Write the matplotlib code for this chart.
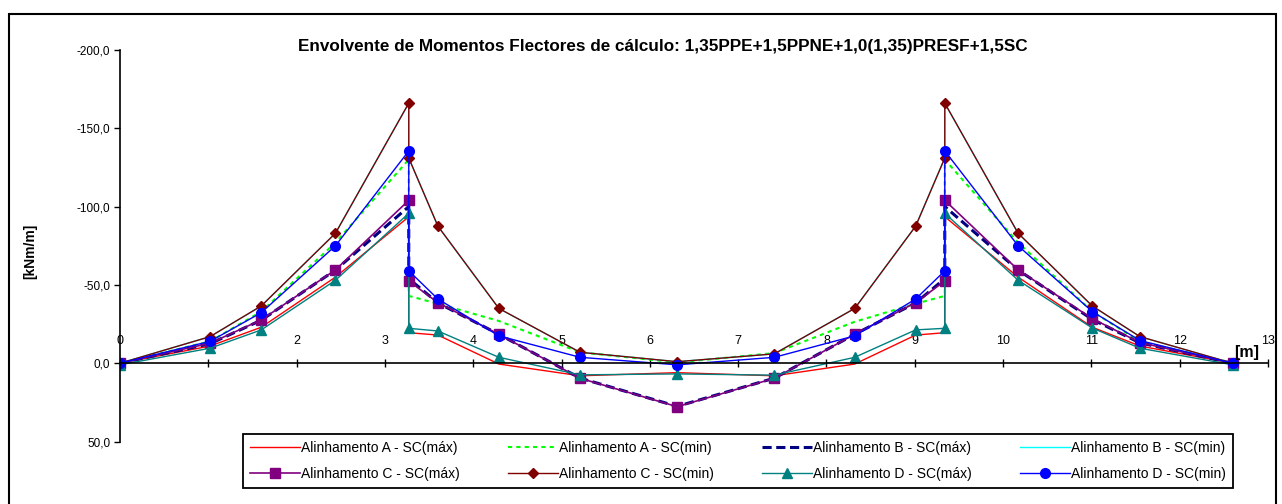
import matplotlib
matplotlib.use("Agg")
import matplotlib.pyplot as plt
from matplotlib.patches import Rectangle
from matplotlib.ticker import FuncFormatter

plt.rcParams['font.family'] = ['Liberation Sans', 'DejaVu Sans']
plt.rcParams['axes.unicode_minus'] = False

# posicoes ao longo da laje [m] (apoios repetidos para o salto vertical)
x_m = [0, 1.02, 1.6, 2.44, 3.27, 3.27, 3.6, 4.29, 5.21, 6.31, 7.41, 8.32, 9.01,
       9.34, 9.34, 10.17, 11.01, 11.55, 12.6]

a_max = [0, -11, -23, -55, -93.5, -19.5, -18, 0.5, 8, 6, 8, 0.5, -18,
         -19.5, -93.5, -55, -23, -11, 0]
a_min = [0, -14, -33, -77, -130, -43, -38, -27, -7, -0.5, -6.5, -26.5, -38,
         -43, -130, -77, -33, -14, 0]
b_max = [0, -12.5, -27.5, -59.5, -100, -54, -38.5, -18.5, 9.5, 27.5, 9.5, -18.5, -38.5,
         -54, -100, -59.5, -28, -13, 0]
b_min = [0, -17, -36.5, -83, -166, -131, -87.5, -35, -7, -1, -6, -35, -87.5,
         -131, -166, -83, -36.5, -17, 0]
c_max = [0, -12.8, -27.7, -59.6, -104, -52.5, -38.7, -18.5, 9.6, 27.7, 9.6, -18.5, -38.7,
         -52.5, -104, -59.6, -28.5, -13.2, 0]
c_min = [0, -17, -36.6, -83, -166, -131, -87.5, -35, -7, -1, -6, -35, -87.5,
         -131, -166, -83, -36.6, -17, 0]
d_max = [1, -9.6, -21.3, -53, -95.7, -22.3, -20.6, -3.8, 7.4, 6.8, 7.6, -3.8, -21.3,
         -22.3, -95.7, -53, -22.5, -9.6, 1]
d_min = [0, -14, -32.3, -75, -135.5, -59, -41, -17.5, -3.8, 1, -3.8, -17.5, -41,
         -59, -135.5, -75, -33, -14.5, 0]

y_ticks = [-200, -150, -100, -50, 0, 50]
x_ticks = list(range(0, 14))

titulo = "Envolvente de Momentos Flectores de cálculo: 1,35PPE+1,5PPNE+1,0(1,35)PRESF+1,5SC"

W, H = 1282, 504
fig = plt.figure(figsize=(W / 100, H / 100), dpi=100)
ax = fig.add_axes([120 / W, 62.4 / H, 1148 / W, 391.7 / H])

l_amax, = ax.plot(x_m, a_max, color='#FF0000', lw=1.0, label='Alinhamento A - SC(máx)')
l_amin, = ax.plot(x_m, a_min, color='#00FF00', lw=1.5, ls=(0, (2, 2)), label='Alinhamento A - SC(min)')
l_bmax, = ax.plot(x_m, b_max, color='#000080', lw=2.2, ls=(0, (3, 1.5)), label='Alinhamento B - SC(máx)')
l_bmin, = ax.plot(x_m, b_min, color='#00FFFF', lw=1.0, label='Alinhamento B - SC(min)')
l_cmax, = ax.plot(x_m, c_max, color='#800080', lw=1.2, marker='s', ms=7,
                  label='Alinhamento C - SC(máx)')
l_cmin, = ax.plot(x_m, c_min, color='#800000', lw=1.0, marker='D', ms=5,
                  label='Alinhamento C - SC(min)')
l_dmax, = ax.plot(x_m, d_max, color='#008080', lw=1.0, marker='^', ms=7,
                  label='Alinhamento D - SC(máx)')
l_dmin, = ax.plot(x_m, d_min, color='#0000FF', lw=1.0, marker='o', ms=7,
                  label='Alinhamento D - SC(min)')

ax.set_xlim(0, 13)
ax.set_ylim(50, -200)

for s in ['top', 'right']:
    ax.spines[s].set_visible(False)
ax.spines['bottom'].set_position(('data', 0))
ax.spines['left'].set_linewidth(1.2)
ax.spines['bottom'].set_linewidth(1.2)

ax.set_yticks(y_ticks)
ax.yaxis.set_major_formatter(FuncFormatter(lambda v, p: f"{v:.1f}".replace('.', ',')))
ax.tick_params(axis='y', direction='out', length=4, width=1, labelsize=8.5, pad=3)

ax.set_xticks(x_ticks)
ax.set_xticklabels([str(t) for t in x_ticks])
ax.tick_params(axis='x', direction='inout', length=6, width=1, labelsize=9, pad=-23)

ax.text(12.76, -7, '[m]', ha='center', va='center', fontsize=11.5, fontweight='bold')

fig.text(663 / W, 1 - 46 / H, titulo, ha='center', va='center', fontsize=12.3, fontweight='bold')
fig.text(30 / W, 1 - 251 / H, '[kNm/m]', rotation=90, ha='center', va='center',
         fontsize=10, fontweight='bold')

handles = [l_amax, l_cmax, l_amin, l_cmin, l_bmax, l_dmax, l_bmin, l_dmin]
leg = ax.legend(handles=handles, labels=[h.get_label() for h in handles], ncol=4,
                loc='lower left', mode='expand',
                bbox_to_anchor=(236 / W, 1 - 495 / H, (1240 - 236) / W, 58 / H),
                bbox_transform=fig.transFigure, fontsize=10, frameon=True,
                fancybox=False, framealpha=1, edgecolor='black', handlelength=3.6,
                handletextpad=0.1, borderpad=0.5, labelspacing=0.85, columnspacing=1.0)
leg.get_frame().set_linewidth(1.3)

fig.patches.append(Rectangle((9 / W, -0.1), (1276 - 9) / W, 1.1 - 14 / H,
                             transform=fig.transFigure, fill=False, lw=1.5, ec='black'))

fig.savefig('out.png', dpi=100)
